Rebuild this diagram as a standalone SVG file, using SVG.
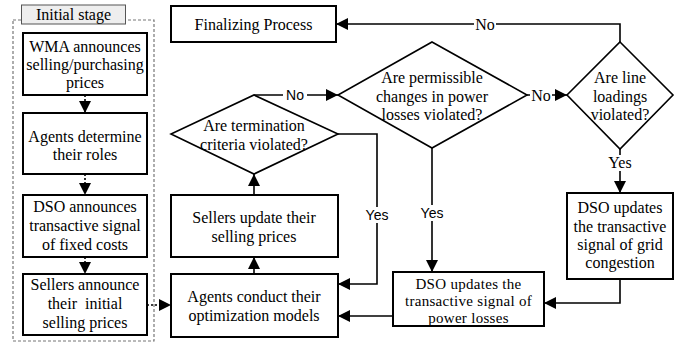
<svg xmlns="http://www.w3.org/2000/svg" width="688" height="346" viewBox="0 0 688 346">
<defs>
<style>
.box{fill:#fff;stroke:#000;stroke-width:2}
.dia{fill:#fff;stroke:#000;stroke-width:1.6}
.t{font-family:"Liberation Serif","Times New Roman",serif;font-size:16px;fill:#000;text-anchor:middle}
.sm{font-size:15px;letter-spacing:0.3px}
.s{font-family:"Liberation Sans",Arial,sans-serif;font-size:14px;fill:#000;text-anchor:middle}
.ln{fill:none;stroke:#000;stroke-width:1.6}
.dot{fill:none;stroke:#000;stroke-width:1.6;stroke-dasharray:2,2}
.bg{fill:#fff}
</style>
<marker id="ah" markerUnits="userSpaceOnUse" markerWidth="13" markerHeight="12" refX="12" refY="6" orient="auto">
<path d="M0,0 L12,6 L0,12 z" fill="#000"/>
</marker>
</defs>
<rect width="688" height="346" fill="#fff"/>

<g id="initial-stage">
<rect x="13" y="20" width="141" height="321" fill="none" stroke="#777" stroke-width="1.2" stroke-dasharray="3,2"/>
<rect x="21.5" y="5" width="104" height="19" fill="#eeeeee" stroke="#555" stroke-width="1"/>
<text class="t" x="73.5" y="19.5">Initial stage</text>
</g>

<g id="n-wma">
<rect class="box" x="23" y="33" width="124" height="62"/>
<text class="t" x="85" y="52">WMA announces</text>
<text class="t" x="85" y="70">selling/purchasing</text>
<text class="t" x="85" y="88">prices</text>
</g>
<g id="n-roles">
<rect class="box" x="23" y="113" width="124" height="61"/>
<text class="t" x="85" y="142">Agents determine</text>
<text class="t" x="85" y="160">their roles</text>
</g>
<g id="n-dso-fixed">
<rect class="box" x="23" y="195" width="124" height="62"/>
<text class="t" x="85" y="212">DSO announces</text>
<text class="t" x="85" y="231">transactive signal</text>
<text class="t" x="85" y="250">of fixed costs</text>
</g>
<g id="n-sellers-init">
<rect class="box" x="23" y="274" width="124" height="61"/>
<text class="t" x="85" y="290">Sellers announce</text>
<text class="t" x="85" y="309" xml:space="preserve">their  initial</text>
<text class="t" x="85" y="328">selling prices</text>
</g>

<g id="n-final">
<rect class="box" x="171" y="6" width="165" height="36"/>
<text class="t" x="253.5" y="29.5">Finalizing Process</text>
</g>
<g id="n-term">
<polygon class="dia" points="254,95 338,134 254,174 171,134"/>
<text class="t" x="254" y="131">Are termination</text>
<text class="t" x="254" y="150">criteria violated?</text>
</g>
<g id="n-sellers-update">
<rect class="box" x="171" y="195" width="167" height="62"/>
<text class="t" x="254" y="223">Sellers update their</text>
<text class="t" x="254" y="242">selling prices</text>
</g>
<g id="n-agents-opt">
<rect class="box" x="171" y="274" width="167" height="63"/>
<text class="t" x="254" y="302">Agents conduct their</text>
<text class="t" x="254" y="321">optimization models</text>
</g>
<g id="n-perm">
<polygon class="dia" points="432,42 527,95 432,148 338,95"/>
<text class="t" x="432" y="83">Are permissible</text>
<text class="t" x="432" y="101.5">changes in power</text>
<text class="t" x="432" y="120">losses violated?</text>
</g>
<g id="n-line">
<polygon class="dia" points="620,42 673,95 620,149 567,95"/>
<text class="t" x="620" y="83">Are line</text>
<text class="t" x="620" y="101.5">loadings</text>
<text class="t" x="620" y="120">violated?</text>
</g>
<g id="n-dso-loss">
<rect class="box" x="393" y="272" width="151" height="54"/>
<text class="t sm" x="468.5" y="289">DSO updates the</text>
<text class="t sm" x="468.5" y="306">transactive signal of</text>
<text class="t sm" x="468.5" y="323">power losses</text>
</g>
<g id="n-dso-cong">
<rect class="box" x="567" y="193" width="106" height="86"/>
<text class="t" x="620" y="213">DSO updates</text>
<text class="t" x="620" y="231.5">the transactive</text>
<text class="t" x="620" y="249.5">signal of grid</text>
<text class="t" x="620" y="267.5">congestion</text>
</g>

<g id="connectors">
<path class="dot" d="M85,95 V113" marker-end="url(#ah)"/>
<path class="dot" d="M85,174 V195" marker-end="url(#ah)"/>
<path class="dot" d="M85,257 V274" marker-end="url(#ah)"/>
<path class="dot" d="M147,305 H171" marker-end="url(#ah)"/>
<path class="ln" d="M254,274 V257" marker-end="url(#ah)"/>
<path class="ln" d="M254,195 V174" marker-end="url(#ah)"/>
<path class="ln" d="M254,95 H338" marker-end="url(#ah)"/>
<path class="ln" d="M338,134 H377 V284 H338" marker-end="url(#ah)"/>
<path class="ln" d="M393,316 H338" marker-end="url(#ah)"/>
<path class="ln" d="M527,95 H567" marker-end="url(#ah)"/>
<path class="ln" d="M620,42 V24 H336" marker-end="url(#ah)"/>
<path class="ln" d="M620,149 V193" marker-end="url(#ah)"/>
<path class="ln" d="M432,148 V272" marker-end="url(#ah)"/>
<path class="ln" d="M620,279 V303 H544" marker-end="url(#ah)"/>
<rect class="bg" x="283" y="88" width="24" height="14"/>
<text class="s" x="295" y="100">No</text>
<rect class="bg" x="368" y="207" width="20" height="16"/>
<text class="s" x="377" y="220">Yes</text>
<rect class="bg" x="421" y="205" width="22" height="16"/>
<text class="s" x="432" y="218">Yes</text>
<rect class="bg" x="530" y="88" width="22" height="14"/>
<text class="t" x="541" y="100.5">No</text>
<rect class="bg" x="474" y="17" width="22" height="14"/>
<text class="t" x="485" y="29.5">No</text>
<rect class="bg" x="608" y="155" width="24" height="16"/>
<text class="t" x="620" y="168">Yes</text>
</g>
</svg>
